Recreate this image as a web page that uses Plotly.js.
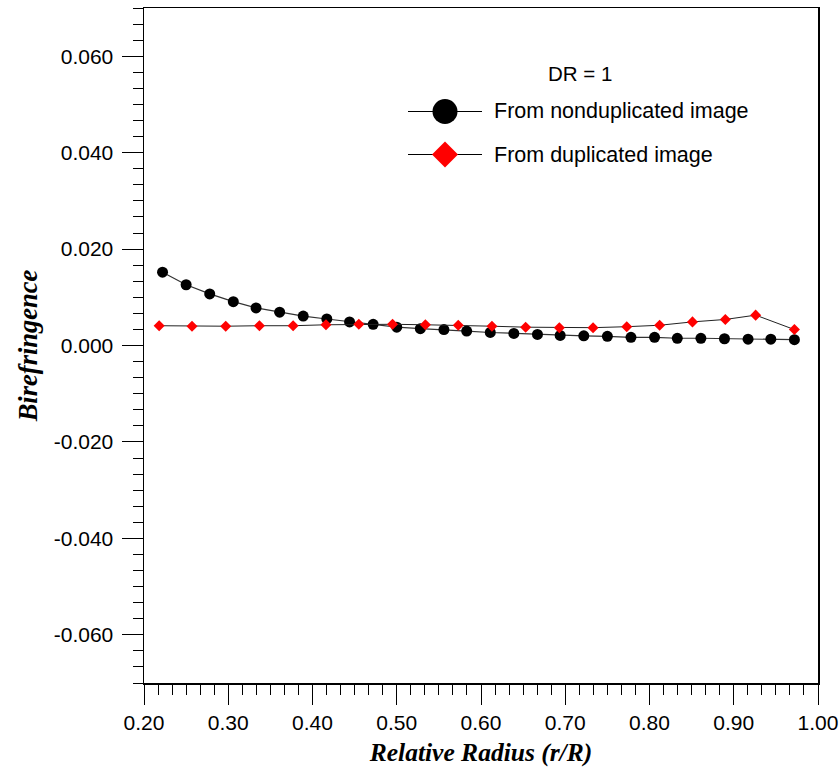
<!DOCTYPE html>
<html>
<head>
<meta charset="utf-8">
<script src="https://cdn.plot.ly/plotly-3.0.1.min.js"></script>
<style>
  html, body { margin: 0; padding: 0; background: #ffffff; }
  #chart { width: 839px; height: 768px; }
</style>
</head>
<body>
<div id="chart"></div>
<script>
// ---- data ----
const xNondup = [0.222, 0.250, 0.278, 0.306, 0.333, 0.361, 0.389, 0.417, 0.444, 0.472,
                 0.500, 0.528, 0.556, 0.583, 0.611, 0.639, 0.667, 0.694, 0.722, 0.750,
                 0.778, 0.806, 0.833, 0.861, 0.889, 0.917, 0.944, 0.972];
const yNondup = [0.0152, 0.0126, 0.0107, 0.0091, 0.0078, 0.0069, 0.0061, 0.0055, 0.0049, 0.0044,
                 0.0038, 0.0035, 0.0033, 0.0030, 0.0027, 0.0025, 0.0023, 0.0021, 0.0020, 0.0019,
                 0.0017, 0.0017, 0.0015, 0.0015, 0.0014, 0.0013, 0.0013, 0.0012];

const xDup = [0.218, 0.257, 0.297, 0.337, 0.377, 0.416, 0.455, 0.495, 0.534, 0.573,
              0.613, 0.653, 0.693, 0.733, 0.773, 0.812, 0.851, 0.890, 0.926, 0.972];
const yDup = [0.0041, 0.0040, 0.0040, 0.0041, 0.0041, 0.0043, 0.0044, 0.0044, 0.0043, 0.0042,
              0.0040, 0.0038, 0.0037, 0.0037, 0.0039, 0.0042, 0.0049, 0.0054, 0.0063, 0.0033];

const seriesNames = ["From nonduplicated image", "From duplicated image"];
const legendHeader = "DR = 1";

const xTickVals = [0.2, 0.3, 0.4, 0.5, 0.6, 0.7, 0.8, 0.9, 1.0];
const xTickText = ["0.20", "0.30", "0.40", "0.50", "0.60", "0.70", "0.80", "0.90", "1.00"];
const yTickVals = [-0.06, -0.04, -0.02, 0.0, 0.02, 0.04, 0.06];
const yTickText = ["-0.060", "-0.040", "-0.020", "0.000", "0.020", "0.040", "0.060"];

const xTitle = "Relative Radius (r/R)";
const yTitle = "Birefringence";

// ---- traces ----
const traces = [
  {
    x: xNondup, y: yNondup, name: seriesNames[0], type: "scatter", mode: "lines+markers",
    line: { color: "#333333", width: 1.2 },
    marker: { symbol: "circle", size: 11, color: "#000000" },
    showlegend: false
  },
  {
    x: xDup, y: yDup, name: seriesNames[1], type: "scatter", mode: "lines+markers",
    line: { color: "#222222", width: 1 },
    marker: { symbol: "diamond", size: 8.5, color: "#ff0000" },
    showlegend: false
  }
];

// ---- legend drawn as shapes + annotations ----
function px2paperX(px) { return (px - 144) / 674; }
function px2paperY(py) { return (683 - py) / 675; }
const row1 = px2paperY(111.5), row2 = px2paperY(154.5);
const lx0 = px2paperX(408), lx1 = px2paperX(482), lxc = px2paperX(445);

const shapes = [
  { type: "line", xref: "paper", yref: "paper", x0: lx0, x1: lx1, y0: row1, y1: row1,
    line: { color: "#000000", width: 1 } },
  { type: "circle", xref: "paper", yref: "paper", xsizemode: "pixel", ysizemode: "pixel",
    xanchor: lxc, yanchor: row1, x0: -12.5, x1: 12.5, y0: -12.5, y1: 12.5,
    fillcolor: "#000000", line: { color: "#000000", width: 0 } },
  { type: "line", xref: "paper", yref: "paper", x0: lx0, x1: lx1, y0: row2, y1: row2,
    line: { color: "#000000", width: 1 } },
  { type: "path", xref: "paper", yref: "paper", xsizemode: "pixel", ysizemode: "pixel",
    xanchor: lxc, yanchor: row2, path: "M -13 0 L 0 13 L 13 0 L 0 -13 Z",
    fillcolor: "#ff0000", line: { color: "#ff0000", width: 0 } }
];

const annotations = [
  { xref: "paper", yref: "paper", x: px2paperX(580), y: px2paperY(73), text: legendHeader,
    showarrow: false, xanchor: "center", yanchor: "middle",
    font: { family: "Liberation Sans, Arial, sans-serif", size: 20.5, color: "#000000" } },
  { xref: "paper", yref: "paper", x: px2paperX(492), y: row1, text: seriesNames[0],
    showarrow: false, xanchor: "left", yanchor: "middle",
    font: { family: "Liberation Sans, Arial, sans-serif", size: 21.5, color: "#000000" } },
  { xref: "paper", yref: "paper", x: px2paperX(492), y: row2, text: seriesNames[1],
    showarrow: false, xanchor: "left", yanchor: "middle",
    font: { family: "Liberation Sans, Arial, sans-serif", size: 21.5, color: "#000000" } }
];

const tickFont = { family: "Liberation Sans, Arial, sans-serif", size: 21, color: "#000000" };
const xTitleFont = { family: "Liberation Serif, Times New Roman, serif", size: 25.5, color: "#000000",
                     weight: "bold", style: "italic" };
const yTitleFont = { family: "Liberation Serif, Times New Roman, serif", size: 26.5, color: "#000000",
                     weight: "bold", style: "italic" };

const layout = {
  width: 839, height: 768,
  margin: { l: 144, r: 21, t: 8, b: 85, pad: 0 },
  paper_bgcolor: "#ffffff", plot_bgcolor: "#ffffff",
  showlegend: false,
  xaxis: {
    range: [0.2, 1.0], showgrid: false, zeroline: false,
    showline: true, linecolor: "#000000", linewidth: 1.5, mirror: true,
    tickmode: "array", tickvals: xTickVals, ticktext: xTickText,
    ticks: "outside", ticklen: 20, tickwidth: 1, tickcolor: "#000000",
    minor: { tickmode: "linear", tick0: 0.2, dtick: 0.1 / 6, ticks: "outside", ticklen: 10,
             tickwidth: 1, tickcolor: "#000000", showgrid: false },
    tickfont: tickFont,
    title: { text: "<b><i>" + xTitle + "</i></b>", font: xTitleFont, standoff: 10 }
  },
  yaxis: {
    range: [-0.07, 0.07], showgrid: false, zeroline: false,
    showline: true, linecolor: "#000000", linewidth: 1.5, mirror: true,
    tickmode: "array", tickvals: yTickVals, ticktext: yTickText,
    ticks: "outside", ticklen: 21, tickwidth: 1, tickcolor: "#000000",
    ticklabelstandoff: 4,
    minor: { tickmode: "linear", tick0: 0, dtick: 0.02 / 6, ticks: "outside", ticklen: 10,
             tickwidth: 1, tickcolor: "#000000", showgrid: false },
    tickfont: tickFont,
    title: { text: "<b><i>" + yTitle + "</i></b>", font: yTitleFont, standoff: 8 }
  },
  shapes: shapes,
  annotations: annotations
};

Plotly.newPlot("chart", traces, layout, { staticPlot: true, displayModeBar: false });
</script>
</body>
</html>
